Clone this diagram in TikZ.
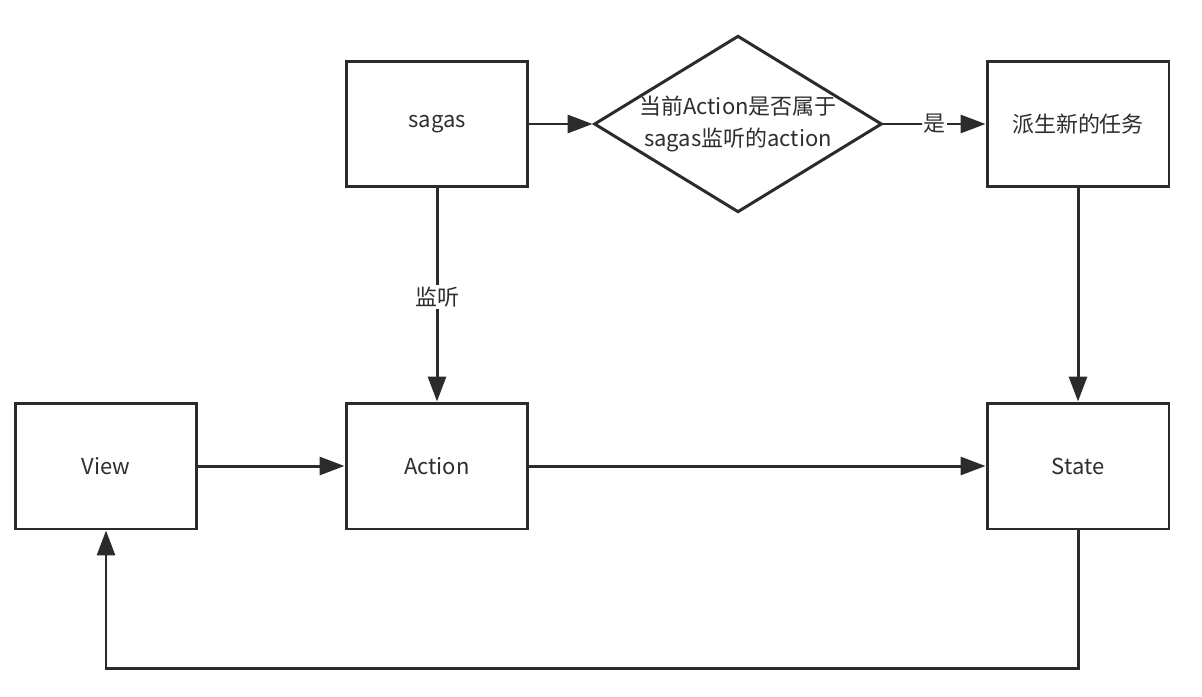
\documentclass[tikz,border=0pt]{standalone}
\usepackage{fontspec}
\setmainfont{Noto Sans CJK SC}
\usetikzlibrary{arrows.meta,positioning,shapes.geometric}
\definecolor{inkline}{HTML}{2B2B2B}
\definecolor{inktext}{HTML}{2E2E2E}
\tikzset{
  blok/.style={rectangle, draw=inkline, line width=1.7pt, fill=white,
               minimum width=3.64cm, minimum height=2.52cm, inner sep=0pt,
               text=inktext, font=\fontsize{12.5}{15}\selectfont},
  keuze/.style={diamond, aspect=1.63, draw=inkline, line width=1.7pt, fill=white,
                minimum width=5.68cm, minimum height=3.48cm, inner sep=0pt,
                align=center, text=inktext, font=\fontsize{12.5}{18}\selectfont},
  pijl/.style={-{Triangle[length=0.5cm, width=0.36cm]}, line width=1.7pt, draw=inkline},
  etiket/.style={fill=white, inner sep=1pt, text=inktext, font=\fontsize{12.5}{15}\selectfont},
}
\begin{document}
\begin{tikzpicture}[x=0.02cm, y=-0.02cm]
  \useasboundingbox (0,0) rectangle (1202,696);
  % bovenste rij
  \node[blok] (sagas) at (437,124) {sagas};
  \node[keuze] (check) at (738,124) {当前Action是否属于\\sagas监听的action};
  \node[blok] (spawn) at (1078,124) {派生新的任务};
  % onderste rij
  \node[blok] (view) at (106,466) {View};
  \node[blok] (action) at (437,466) {Action};
  \node[blok] (state) at (1078,466) {State};
  \coordinate (hoekR) at (1078,668);
  \coordinate (hoekL) at (106,668);
  % verbindingen
  \draw[pijl] (sagas) -- (check);
  \draw[pijl] (check) -- node[etiket] {是} (spawn);
  \draw[pijl] (spawn) -- (state);
  \draw[pijl] (sagas) -- node[etiket, pos=0.51] {监听} (action);
  \draw[pijl] (view) -- (action);
  \draw[pijl] (action) -- (state);
  \draw[pijl] (state.south) -- (hoekR) -- (hoekL) -- (view.south);
\end{tikzpicture}
\end{document}
